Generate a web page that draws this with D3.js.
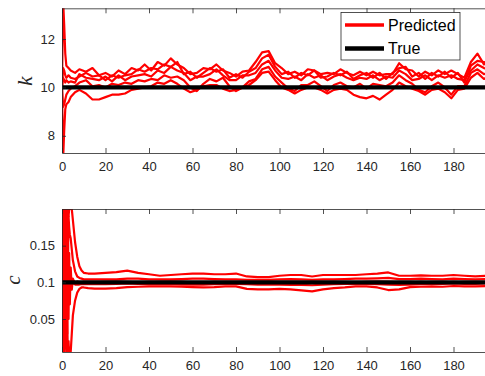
<!DOCTYPE html>
<html>
<head>
<meta charset="utf-8">
<script src="https://cdn.jsdelivr.net/npm/d3@7"></script>
<style>
  body { margin: 0; background: #fff; }
  svg { display: block; font-family: 'Liberation Sans', Arial, sans-serif; }
</style>
</head>
<body>
<svg id="chart" width="485" height="376"></svg>
<script>
// ---- data ----
const kTime = [0, 0.5, 1, 1.5, 2, 3, 4, 6,
  8, 11, 14, 17, 20, 23, 26, 29, 32, 35, 38, 41, 44, 47, 50, 53, 56, 59, 62, 65, 68, 71, 74, 77, 80,
  83, 86, 89, 92, 95, 98, 101, 104, 107, 110, 113, 116, 119, 122, 125, 128, 131, 134, 137, 140, 143,
  146, 149, 152, 155, 158, 161, 164, 167, 170, 173, 176, 179, 182, 185, 188, 191, 194, 197, 200];

const kPredA = [10.0, 13.6, 12.6, 11.4, 10.9, 10.8, 10.7, 10.6,
  10.75, 10.65, 10.8, 10.5, 10.6, 10.45, 10.7, 10.55, 10.8, 10.7,
  10.95, 10.7, 11.05, 10.9, 11.2, 10.95, 10.8, 10.55, 10.6, 10.8,
  10.75, 10.95, 10.7, 10.6, 10.45, 10.65, 10.7, 11.05, 11.45, 11.5,
  11.0, 10.8, 10.55, 10.65, 10.5, 10.75, 10.7, 10.55, 10.6, 10.55,
  10.75, 10.6, 10.5, 10.65, 10.5, 10.65, 10.5, 10.55, 10.55, 11.0,
  10.75, 10.7, 10.45, 10.65, 10.5, 10.7, 10.55, 10.7, 10.55, 10.4,
  11.05, 11.4, 10.95, 11.2, 10.95];
const kPredB = [10.0, 10.8, 10.7, 10.5, 10.4, 10.5, 10.4, 10.35,
  10.45, 10.6, 10.45, 10.5, 10.3, 10.5, 10.4, 10.5, 10.55, 10.75,
  10.65, 10.8, 10.75, 10.95, 10.85, 11.05, 10.55, 10.65, 10.4, 10.6,
  10.8, 10.65, 10.75, 10.4, 10.55, 10.4, 10.65, 10.8, 11.2, 11.35,
  10.85, 10.55, 10.65, 10.4, 10.6, 10.5, 10.7, 10.4, 10.45, 10.6,
  10.5, 10.65, 10.35, 10.5, 10.6, 10.4, 10.6, 10.35, 10.6, 10.8,
  10.85, 10.45, 10.6, 10.35, 10.6, 10.45, 10.65, 10.4, 10.6, 10.2,
  10.9, 11.1, 11.05, 10.9, 11.1];
const kPredC = [10.0, 10.4, 10.3, 10.2, 10.3, 10.2, 10.25, 10.2,
  10.55, 10.4, 10.35, 10.3, 10.45, 10.25, 10.5, 10.3, 10.45, 10.5,
  10.55, 10.45, 10.7, 10.6, 10.85, 10.7, 10.6, 10.3, 10.45, 10.45,
  10.55, 10.75, 10.5, 10.3, 10.3, 10.5, 10.5, 10.6, 10.95, 11.1,
  10.7, 10.4, 10.35, 10.45, 10.3, 10.55, 10.4, 10.5, 10.3, 10.45,
  10.55, 10.4, 10.3, 10.4, 10.35, 10.5, 10.3, 10.45, 10.4, 10.7,
  10.55, 10.3, 10.35, 10.5, 10.3, 10.5, 10.4, 10.5, 10.35, 10.3,
  10.7, 10.95, 10.8, 10.75, 10.9];
const kPredD = [10.0, 9.2, 9.3, 9.5, 9.7, 9.85, 9.95, 10.05,
  10.2, 10.3, 10.05, 10.1, 10.0, 10.15, 10.1, 10.2, 10.15, 10.3,
  10.25, 10.35, 10.3, 10.5, 10.4, 10.45, 10.3, 10.0, 9.85, 10.15,
  10.35, 10.25, 10.4, 10.05, 9.85, 10.0, 10.25, 10.35, 10.75, 10.85,
  10.45, 10.2, 9.95, 9.85, 10.1, 10.1, 10.25, 10.05, 9.85, 10.1,
  10.2, 10.05, 10.0, 10.15, 9.95, 10.15, 10.1, 10.05, 10.2, 10.5,
  10.3, 10.15, 9.9, 9.8, 10.05, 10.2, 10.0, 9.7, 10.05, 10.05,
  10.6, 10.75, 10.55, 10.6, 10.65];
const kPredE = [10.0, 7.0, 8.2, 9.1, 9.3, 9.4, 9.6, 9.8,
  9.9, 9.75, 9.5, 9.5, 9.6, 9.7, 9.7, 9.75, 9.9, 9.95,
  10.0, 10.05, 10.2, 10.15, 10.3, 10.15, 9.95, 9.8, 9.9, 10.05,
  10.1, 10.1, 9.95, 9.85, 9.9, 10.0, 10.1, 10.3, 10.6, 10.65,
  10.3, 10.0, 9.9, 9.75, 9.9, 10.0, 10.0, 9.9, 9.75, 9.9,
  9.95, 9.9, 9.7, 9.6, 9.55, 9.65, 9.5, 9.7, 9.9, 10.2,
  10.05, 9.95, 9.85, 9.7, 9.9, 9.95, 9.8, 9.55, 9.9, 9.95,
  10.4, 10.6, 10.35, 10.5, 10.4];
const kTrue = 10;

const cTime = [0, 0.3, 0.6, 0.9, 1.2, 1.5, 1.8, 2.1, 2.4, 2.7, 3.0, 3.3, 3.6, 4.0, 4.5, 5, 6, 7, 8, 9, 10, 12,
  15, 20, 25, 30, 35, 40, 45, 50, 55, 60, 65, 70, 75, 80, 85, 90, 95, 100, 105, 110, 115, 120, 125,
  130, 135, 140, 145, 150, 155, 160, 165, 170, 175, 180, 185, 190, 195, 200];

const cPredU1 = [0.1, 0.19, 0.03, 0.2, 0.06, 0.21, 0.12, 0.2, 0.15, 0.21, 0.19, 0.2, 0.2, 0.21, 0.2, 0.185, 0.155, 0.135, 0.122, 0.116, 0.113, 0.112,
  0.112, 0.113, 0.114, 0.116, 0.113, 0.111, 0.109, 0.11, 0.111, 0.112, 0.112, 0.111, 0.111, 0.112, 0.108, 0.107, 0.107, 0.109, 0.11,
  0.11, 0.108, 0.11, 0.11, 0.11, 0.11, 0.111, 0.112, 0.1135, 0.109, 0.109, 0.1095, 0.109, 0.109, 0.11, 0.109, 0.108, 0.109, 0.109];
const cPredU2 = [0.1, 0.05, 0.17, 0.08, 0.19, 0.1, 0.18, 0.06, 0.2, 0.12, 0.19, 0.175, 0.165, 0.16, 0.145, 0.13, 0.115, 0.108, 0.106, 0.105, 0.104, 0.104,
  0.104, 0.104, 0.104, 0.105, 0.105, 0.104, 0.104, 0.104, 0.1045, 0.105, 0.105, 0.1045, 0.104, 0.104, 0.1035, 0.1035, 0.1035, 0.104, 0.1045,
  0.104, 0.1035, 0.104, 0.104, 0.1045, 0.105, 0.105, 0.1055, 0.106, 0.1045, 0.1045, 0.105, 0.1045, 0.104, 0.105, 0.1045, 0.104, 0.1045, 0.104];
const cPredW = [0.1, 0.2, 0.005, 0.2, 0.0, 0.19, 0.01, 0.18, 0.03, 0.16, 0.05, 0.14, 0.07, 0.12, 0.09, 0.105, 0.098, 0.101, 0.1, 0.1, 0.1, 0.1,
  0.1, 0.1005, 0.101, 0.1005, 0.1, 0.1, 0.1005, 0.101, 0.1005, 0.1, 0.1, 0.1005, 0.1, 0.0995, 0.1, 0.1, 0.1005, 0.1, 0.1,
  0.0995, 0.1, 0.1, 0.1005, 0.1, 0.1, 0.1005, 0.101, 0.1005, 0.1, 0.1, 0.1005, 0.1, 0.1, 0.1005, 0.1, 0.1, 0.1005, 0.1];
const cPredM = [0.1, 0.12, 0.08, 0.15, 0.04, 0.17, 0.06, 0.14, 0.07, 0.13, 0.085, 0.11, 0.09, 0.105, 0.095, 0.1, 0.097, 0.097, 0.097, 0.0975, 0.0975, 0.0975,
  0.0975, 0.0975, 0.098, 0.0985, 0.098, 0.0975, 0.0975, 0.0975, 0.097, 0.097, 0.097, 0.0975, 0.098, 0.098, 0.0975, 0.097, 0.097, 0.097, 0.0965,
  0.0965, 0.096, 0.097, 0.0975, 0.098, 0.098, 0.098, 0.0975, 0.097, 0.0965, 0.097, 0.0975, 0.098, 0.098, 0.0985, 0.098, 0.098, 0.0985, 0.098];
const cPredL1 = [0.1, 0.01, 0.15, 0.0, 0.12, 0.02, 0.09, 0.0, 0.05, 0.0, 0.02, 0.0, 0.0, 0.005, 0.03, 0.055, 0.075, 0.086, 0.091, 0.093, 0.093, 0.092,
  0.0915, 0.0915, 0.092, 0.0935, 0.094, 0.0945, 0.0945, 0.0945, 0.094, 0.0935, 0.093, 0.0935, 0.0945, 0.0945, 0.091, 0.0905, 0.0905, 0.091, 0.0905,
  0.089, 0.0877, 0.0905, 0.092, 0.093, 0.0945, 0.0945, 0.093, 0.0895, 0.0905, 0.0935, 0.094, 0.0945, 0.094, 0.095, 0.0945, 0.0945, 0.095, 0.095];
const cTrue = 0.1;

const xTicks = [0, 20, 40, 60, 80, 100, 120, 140, 160, 180];
const kTicks = [8, 10, 12];
const cTicks = [0.05, 0.1, 0.15];
const cTickLabels = ['0.05', '0.1', '0.15'];
const legendLabels = ['Predicted', 'True'];

// ---- drawing ----
const AXIS_COLOR = '#262626';
const svg = d3.select('#chart');
svg.append('rect').attr('width', 485).attr('height', 376).attr('fill', '#fff');

// x range runs past the right edge: the figure is cropped there
const x = d3.scaleLinear().domain([0, 200]).range([62, 497]);

function drawPanel(id, time, series, trueValue, yDomain, top, bottom, yTicks, yTickLabels, label, labelPos) {
  const y = d3.scaleLinear().domain(yDomain).range([bottom, top]);
  const g = svg.append('g').attr('id', id);

  g.append('clipPath').attr('id', id + '-clip')
    .append('rect')
    .attr('x', x(0)).attr('y', top)
    .attr('width', x(200) - x(0)).attr('height', bottom - top);

  const plot = g.append('g').attr('clip-path', `url(#${id}-clip)`);
  const line = d3.line().x((d, i) => x(time[i])).y(d => y(d));

  series.forEach(s => {
    plot.append('path')
      .datum(s)
      .attr('fill', 'none')
      .attr('stroke', '#ff0000')
      .attr('stroke-width', 2.2)
      .attr('stroke-linejoin', 'round')
      .attr('d', line);
  });

  plot.append('line')
    .attr('x1', x(0)).attr('x2', x(200))
    .attr('y1', y(trueValue)).attr('y2', y(trueValue))
    .attr('stroke', '#000')
    .attr('stroke-width', 4.3);

  // axes, ticks pointing inward like matlab's box
  const xAxis = g.append('g')
    .attr('transform', `translate(0,${bottom})`)
    .call(d3.axisBottom(x).tickValues(xTicks).tickSizeInner(-5).tickSizeOuter(0).tickPadding(9));
  g.append('g')
    .attr('transform', `translate(0,${top})`)
    .call(d3.axisTop(x).tickValues(xTicks).tickSizeInner(-5).tickSizeOuter(0).tickFormat(''));
  const yAxis = g.append('g')
    .attr('transform', `translate(${x(0)},0)`)
    .call(d3.axisLeft(y).tickValues(yTicks).tickSizeInner(-4).tickSizeOuter(0).tickPadding(7)
      .tickFormat((d, i) => yTickLabels[i]));

  [xAxis, yAxis].forEach(a => a.selectAll('text')
    .attr('fill', AXIS_COLOR)
    .style('font-size', '13px')
    .style('font-family', "'Liberation Sans', Arial, sans-serif"));
  g.selectAll('.domain, .tick line').attr('stroke', AXIS_COLOR).attr('stroke-width', 0.8);

  g.append('text')
    .attr('transform', `translate(${labelPos[0]},${labelPos[1]}) rotate(-90)`)
    .attr('text-anchor', 'middle')
    .style('font-family', "'Liberation Serif', 'DejaVu Serif', serif")
    .style('font-style', 'italic')
    .style('font-size', '21px')
    .attr('fill', AXIS_COLOR)
    .text(label);
}

drawPanel('k-panel', kTime, [kPredA, kPredB, kPredC, kPredD, kPredE], kTrue,
  [7.29, 13.27], 8.3, 153, kTicks, kTicks.map(String), 'k', [32, 81]);

drawPanel('c-panel', cTime, [cPredU1, cPredU2, cPredW, cPredM, cPredL1], cTrue,
  [0.005, 0.2], 209, 352, cTicks, cTickLabels, 'c', [19.5, 280]);

// legend box
const legend = svg.append('g').attr('id', 'legend');
legend.append('rect')
  .attr('x', 341).attr('y', 12.5).attr('width', 119).attr('height', 47.5)
  .attr('fill', '#fff').attr('stroke', AXIS_COLOR).attr('stroke-width', 0.8);

const legendStyles = [{ color: '#ff0000', width: 3.3, y: 25 }, { color: '#000', width: 4.3, y: 48.5 }];
legendLabels.forEach((name, i) => {
  const st = legendStyles[i];
  legend.append('line')
    .attr('x1', 345).attr('x2', 384)
    .attr('y1', st.y).attr('y2', st.y)
    .attr('stroke', st.color).attr('stroke-width', st.width);
  legend.append('text')
    .attr('x', 388).attr('y', st.y + 5.5)
    .attr('fill', '#000')
    .style('font-size', '16px')
    .text(name);
});
</script>
</body>
</html>
